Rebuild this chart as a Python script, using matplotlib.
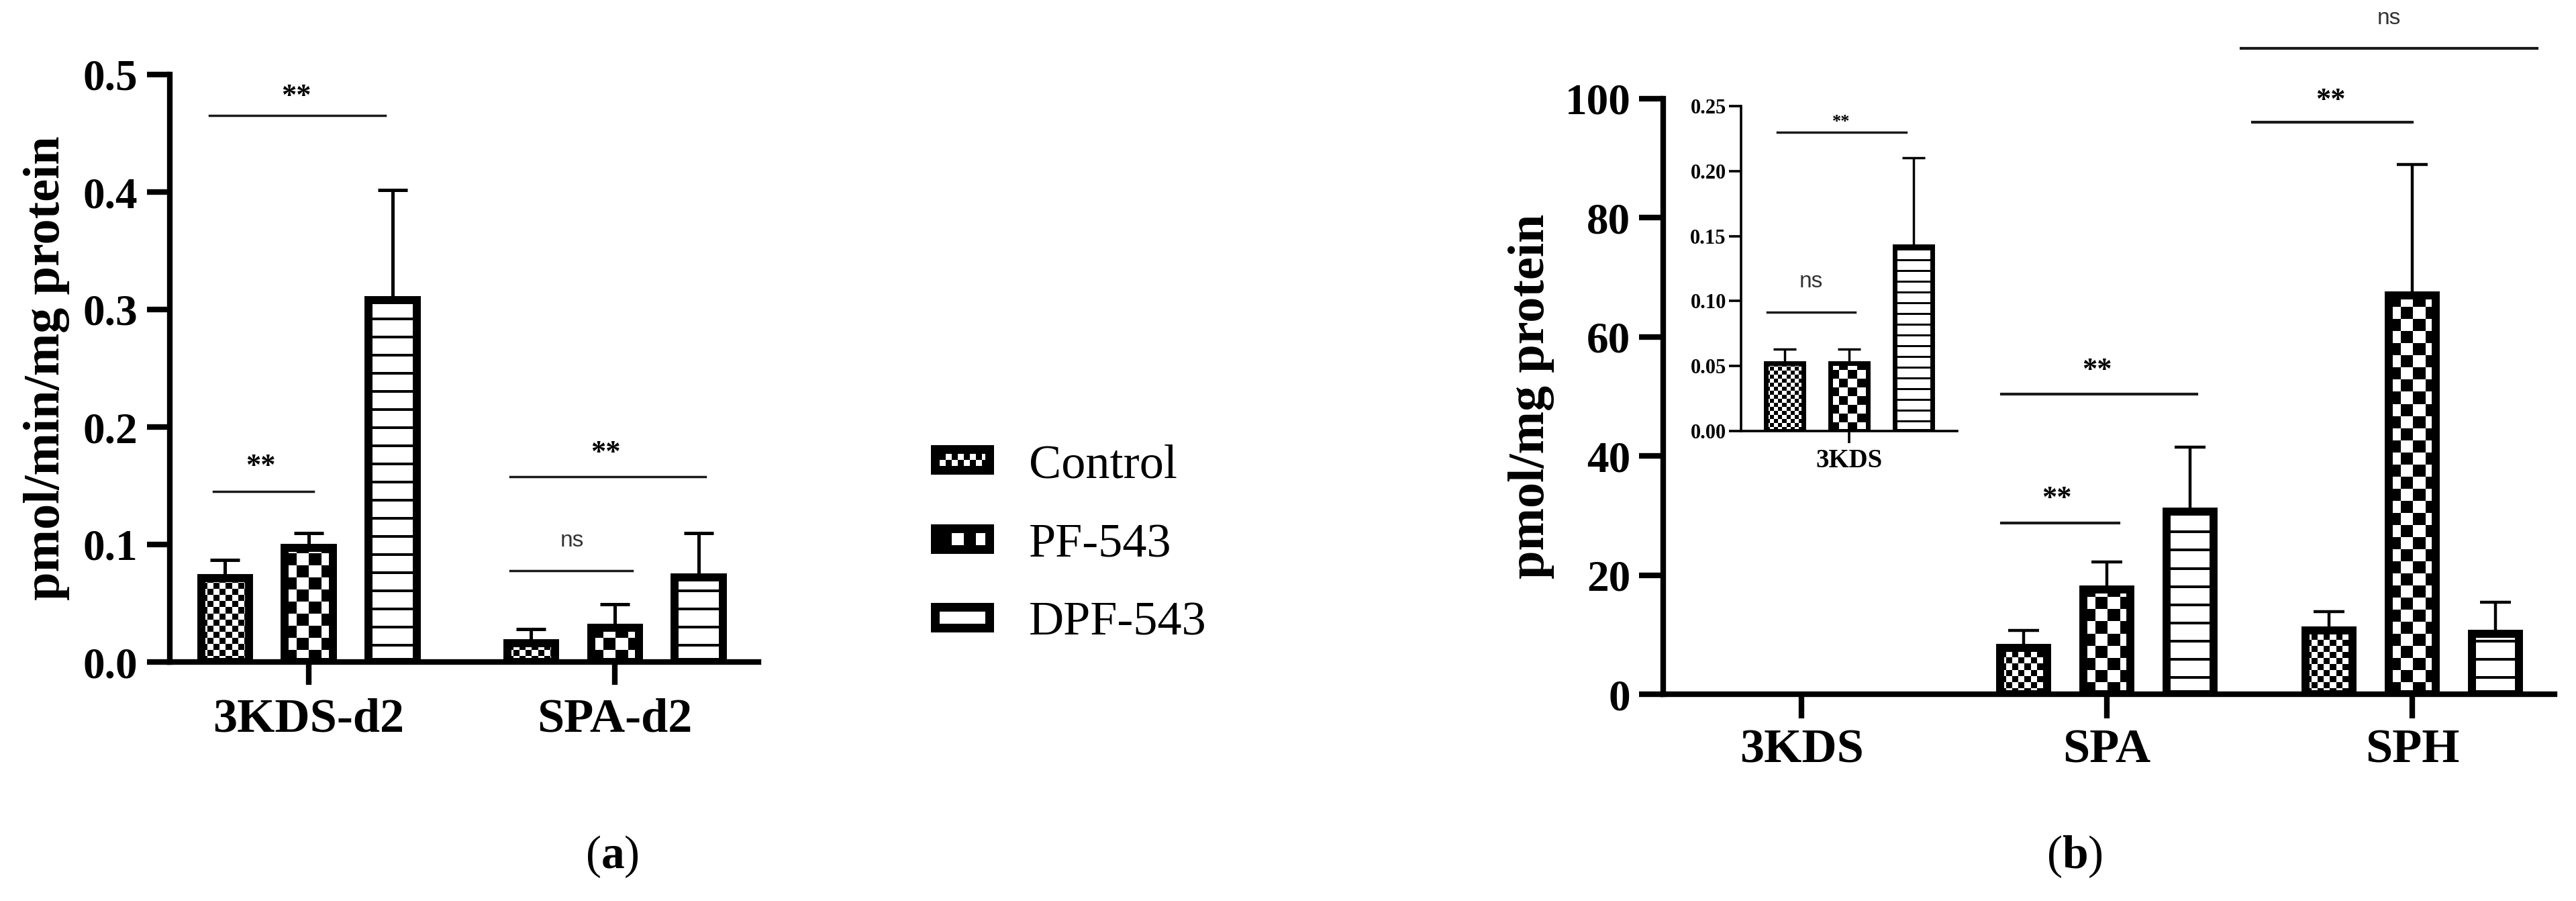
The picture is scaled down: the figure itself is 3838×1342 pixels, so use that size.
import numpy as np
import matplotlib
matplotlib.use("Agg")
import matplotlib.pyplot as plt
from matplotlib.patches import Rectangle

# ---- data ----
treatments = ["Control", "PF-543", "DPF-543"]

# panel (a): pmol/min/mg protein
groups_a = ["3KDS-d2", "SPA-d2"]
a_control = [0.0715, 0.016]
a_control_err = [0.0155, 0.012]
a_pf = [0.097, 0.029]
a_pf_err = [0.013, 0.020]
a_dpf = [0.308, 0.072]
a_dpf_err = [0.094, 0.038]

# panel (b): pmol/mg protein (3KDS only readable in the inset)
groups_b = ["3KDS", "SPA", "SPH"]
b_control = [0.052, 7.8, 10.7]
b_control_err = [0.011, 2.9, 3.2]
b_pf = [0.052, 17.6, 67.0]
b_pf_err = [0.011, 4.6, 22.0]
b_dpf = [0.142, 30.7, 10.2]
b_dpf_err = [0.068, 10.8, 5.3]

yticks_a = [0.0, 0.1, 0.2, 0.3, 0.4, 0.5]
yticks_b = [0, 20, 40, 60, 80, 100]
yticks_inset = [0.00, 0.05, 0.10, 0.15, 0.20, 0.25]

plt.rcParams["font.family"] = ["Liberation Serif", "DejaVu Serif"]
plt.rcParams["mathtext.fontset"] = "custom"
plt.rcParams["mathtext.rm"] = "Liberation Serif"
plt.rcParams["mathtext.bf"] = "Liberation Serif:bold"

W, H = 3838, 1342
fig = plt.figure(figsize=(W / 100, H / 100), dpi=100)


def fill_pattern(ax, bar, kind, size, line=0):
    # checkerboard / stripes clipped to a bar, sized in screen pixels
    x0, y0, x1, y1 = bar.get_bbox().extents
    (px0, py0), (px1, py1) = ax.transData.transform([(x0, y0), (x1, y1)])
    wpx, hpx = abs(px1 - px0), abs(py1 - py0)
    dx = (x1 - x0) / wpx
    dy = (y1 - y0) / hpx
    if kind == "checker":
        nx = int(np.ceil(wpx / size)) + 1
        ny = int(np.ceil(hpx / size)) + 1
        img = (np.add.outer(np.arange(ny), np.arange(nx)) % 2).astype(float)
        ext = (x0, x0 + nx * size * dx, y0, y0 + ny * size * dy)
    else:
        rows = np.arange(int(np.ceil(hpx)) + 1)
        img = np.where(rows % size >= size - line, 0.0, 1.0)[:, None]
        ext = (x0, x1, y0, y0 + len(rows) * dy)
    im = ax.imshow(img, cmap="gray", vmin=0, vmax=1, origin="lower", extent=ext,
                   interpolation="nearest", aspect="auto", zorder=bar.get_zorder() - 0.5)
    im.set_clip_path(bar)


def style_axis(ax, lw, ticklen, xpad, ypad):
    ax.spines[["top", "right"]].set_visible(False)
    ax.spines["left"].set_linewidth(lw)
    ax.spines["bottom"].set_linewidth(lw)
    ax.tick_params(axis="y", length=ticklen, width=lw, pad=ypad)
    ax.tick_params(axis="x", length=ticklen, width=lw, pad=xpad)
    ax.set_facecolor("none")


def draw_bars(ax, x, series, errs, width, offset, edge, patterns, elw, cap):
    for i, (vals, err) in enumerate(zip(series, errs)):
        xs = np.asarray(x) + (i - 1) * offset
        ax.errorbar(xs, vals, yerr=[np.zeros(len(vals)), err], fmt="none", ecolor="black",
                    elinewidth=elw, capsize=cap, capthick=elw, zorder=2)
        bars = ax.bar(xs, vals, width=width, facecolor="none", edgecolor="black",
                      linewidth=edge, zorder=3)
        for b in bars:
            fill_pattern(ax, b, *patterns[i])


def mark(ax, x1, x2, y, tx, ty, label, lw, star_size, ns_size):
    ax.plot([x1, x2], [y, y], color="#1a1a1a", lw=lw, clip_on=False, zorder=4)
    if label == "ns":
        ax.text(tx, ty, label, fontsize=ns_size, family="Liberation Sans", color="#333333",
                ha="center", va="center", clip_on=False)
    else:
        ax.text(tx, ty, label, fontsize=star_size, fontweight="bold", ha="center",
                va="center", clip_on=False)


main_patterns = [("checker", 9), ("checker", 18), ("lines", 27, 4)]
inset_patterns = [("checker", 6), ("checker", 13), ("lines", 16, 3)]

# ---------------- panel (a) ----------------
ax_a = fig.add_axes([253 / W, 1 - 986 / H, (1130 - 253) / W, (986 - 111) / H])
ax_a.set_xlim(-0.454, 1.469)
ax_a.set_ylim(0, 0.5)
xa = np.arange(len(groups_a))
draw_bars(ax_a, xa, [a_control, a_pf, a_dpf], [a_control_err, a_pf_err, a_dpf_err],
          0.156, 0.274, 8.6, main_patterns, 3.6, 15.5)
style_axis(ax_a, 6, 24.5, 14, 10)
ax_a.set_xticks(xa, labels=groups_a, fontsize=52, fontweight="bold")
ax_a.set_yticks(yticks_a, labels=[f"{t:.1f}" for t in yticks_a], fontsize=47, fontweight="bold")
ax_a.set_ylabel("pmol/min/mg protein", fontsize=55, fontweight="bold", va="center")
ax_a.yaxis.set_label_coords(-0.209, 0.5)

mark(ax_a, -0.325, 0.25, 0.465, -0.04, 0.481, "**", 2.5, 32, 24)
mark(ax_a, -0.311, 0.015, 0.145, -0.158, 0.166, "**", 2.5, 32, 24)
mark(ax_a, 0.658, 1.296, 0.158, 0.969, 0.178, "**", 2.5, 32, 24)
mark(ax_a, 0.658, 1.057, 0.078, 0.86, 0.103, "ns", 2.5, 32, 24)

# ---------------- legend ----------------
ax_leg = fig.add_axes([0, 0, 1, 1])
ax_leg.set_xlim(0, W)
ax_leg.set_ylim(H, 0)
ax_leg.axis("off")
for i, (name, yc) in enumerate(zip(treatments, [685, 803, 920])):
    ax_leg.add_patch(Rectangle((1387, yc - 22), 94, 44, facecolor="black", edgecolor="none"))
    inner = Rectangle((1400, yc - 9), 68, 18, facecolor="none", edgecolor="none", zorder=3)
    ax_leg.add_patch(inner)
    fill_pattern(ax_leg, inner, *main_patterns[i])
    ax_leg.text(1533, yc + 26, name, fontsize=52, ha="left", va="baseline")

fig.text(912 / W, 1 - 1276 / H, r"$(\mathbf{a})$", fontsize=50, ha="center", va="center")
fig.text(3091 / W, 1 - 1276 / H, r"$(\mathbf{b})$", fontsize=50, ha="center", va="center")

# ---------------- panel (b) ----------------
ax_b = fig.add_axes([2478 / W, 1 - 1034 / H, (3806 - 2478) / W, (1034 - 147) / H])
ax_b.set_xlim(-0.453, 2.466)
ax_b.set_ylim(0, 100)
xb = np.arange(len(groups_b))
# 3KDS is too small to show on this scale; it is drawn in the inset
draw_bars(ax_b, xb[1:], [b_control[1:], b_pf[1:], b_dpf[1:]],
          [b_control_err[1:], b_pf_err[1:], b_dpf_err[1:]],
          0.154, 0.273, 8.6, main_patterns, 3.2, 16.5)
style_axis(ax_b, 6, 26, 11, 9)
ax_b.set_xticks(xb, labels=groups_b, fontsize=52, fontweight="bold")
ax_b.set_yticks(yticks_b, labels=[str(t) for t in yticks_b], fontsize=47, fontweight="bold")
ax_b.set_ylabel("pmol/mg protein", fontsize=55, fontweight="bold", va="center")
ax_b.yaxis.set_label_coords(-0.148, 0.5)

mark(ax_b, 0.655, 1.295, 50.4, 0.967, 54.3, "**", 3, 32, 24)
mark(ax_b, 0.655, 1.04, 28.8, 0.837, 32.8, "**", 3, 32, 24)
mark(ax_b, 1.477, 2.0, 96.0, 1.732, 99.7, "**", 3, 32, 24)
mark(ax_b, 1.44, 2.409, 108.4, 1.925, 113.5, "ns", 3, 32, 24)

# ---------------- inset (3KDS) ----------------
ax_in = fig.add_axes([2594 / W, 1 - 642 / H, (2916 - 2594) / W, (642 - 158) / H])
ax_in.set_zorder(ax_b.get_zorder() + 1)
ax_in.set_xlim(-0.457, 0.457)
ax_in.set_ylim(0, 0.25)
draw_bars(ax_in, [0], [b_control[:1], b_pf[:1], b_dpf[:1]],
          [b_control_err[:1], b_pf_err[:1], b_dpf_err[:1]],
          0.159, 0.273, 5, inset_patterns, 2.5, 12)
style_axis(ax_in, 2.6, 13, 6, 3)
ax_in.set_xticks([0], labels=groups_b[:1], fontsize=28, fontweight="bold")
ax_in.set_yticks(yticks_inset, labels=[f"{t:.2f}" for t in yticks_inset], fontsize=22,
                 fontweight="bold")
mark(ax_in, -0.347, 0.026, 0.0916, -0.16, 0.115, "ns", 2.5, 19, 24)
mark(ax_in, -0.304, 0.241, 0.230, -0.034, 0.238, "**", 2.5, 19, 24)

fig.savefig("out.png", dpi=100)
